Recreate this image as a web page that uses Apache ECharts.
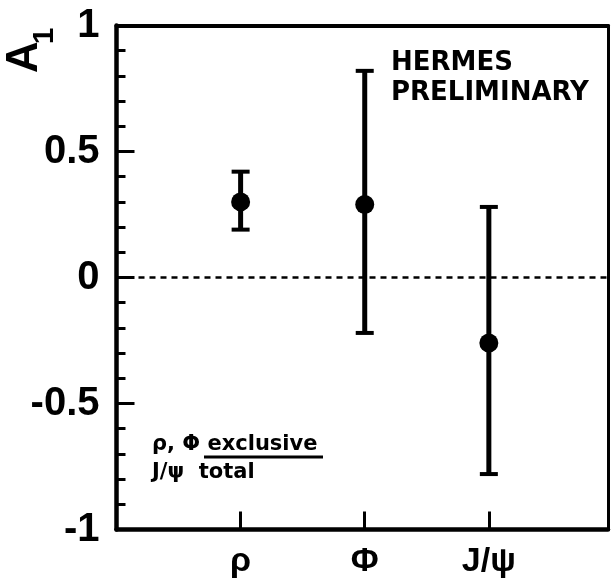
<!DOCTYPE html>
<html>
<head>
<meta charset="utf-8">
<script src="https://cdn.jsdelivr.net/npm/echarts@6/dist/echarts.min.js"></script>
<style>
  html, body { margin: 0; padding: 0; background: #fff; }
  #chart { width: 611px; height: 583px; }
</style>
</head>
<body>
<div id="chart"></div>
<script>
// Double-spin asymmetry A1 for vector-meson production
const categories = ['ρ', 'Φ', 'J/ψ'];
const asymmetry = [0.30, 0.29, -0.26];
const errLow = [0.19, -0.22, -0.78];
const errHigh = [0.42, 0.82, 0.28];
const yTicks = [-1, -0.5, 0, 0.5, 1];

const points = categories.map((c, i) => [i + 1, asymmetry[i]]);
const bars = categories.map((c, i) => [i + 1, errLow[i], errHigh[i]]);

const chart = echarts.init(document.getElementById('chart'), null, { renderer: 'canvas' });

const tickFont = { fontFamily: 'Liberation Sans', fontWeight: 'bold', color: '#000' };

chart.setOption({
  backgroundColor: '#fff',
  animation: false,
  grid: { left: 116.5, right: 1.5, top: 25.5, bottom: 53.5 },
  xAxis: [{
    type: 'value', min: 0, max: 3.96, interval: 1,
    position: 'bottom',
    axisLine: { onZero: false, lineStyle: { color: '#000', width: 4.5 } },
    axisTick: { inside: true, length: 18, lineStyle: { color: '#000', width: 3 } },
    splitLine: { show: false },
    axisLabel: Object.assign({
      fontSize: 34, margin: 15,
      formatter: v => (Number.isInteger(v) && v >= 1 && v <= categories.length) ? categories[v - 1] : ''
    }, tickFont)
  }, {
    type: 'value', min: 0, max: 3.96, position: 'top',
    axisLine: { onZero: false, lineStyle: { color: '#000', width: 4 } },
    axisTick: { show: false }, axisLabel: { show: false }, splitLine: { show: false }
  }],
  yAxis: [{
    type: 'value', min: -1, max: 1, interval: 0.5,
    axisLine: { onZero: false, lineStyle: { color: '#000', width: 4.5 } },
    axisTick: { inside: true, length: 18, lineStyle: { color: '#000', width: 3 } },
    minorTick: { show: true, splitNumber: 5, length: 9, lineStyle: { color: '#000', width: 3 } },
    splitLine: { show: false },
    axisLabel: Object.assign({
      fontSize: 40, margin: 17,
      formatter: v => yTicks.includes(v) ? String(v) : ''
    }, tickFont)
  }, {
    type: 'value', min: -1, max: 1, position: 'right',
    axisLine: { onZero: false, lineStyle: { color: '#000', width: 3 } },
    axisTick: { show: false }, axisLabel: { show: false }, splitLine: { show: false }
  }],
  series: [{
    type: 'custom',
    data: bars,
    z: 3,
    renderItem: function (params, api) {
      const x = api.value(0);
      const top = api.coord([x, api.value(2)]);
      const bot = api.coord([x, api.value(1)]);
      const half = 9;
      const style = { stroke: '#000', lineWidth: 5 };
      const capStyle = { stroke: '#000', lineWidth: 4 };
      return {
        type: 'group',
        children: [
          { type: 'line', shape: { x1: top[0], y1: top[1], x2: bot[0], y2: bot[1] }, style: style },
          { type: 'line', shape: { x1: top[0] - half, y1: top[1], x2: top[0] + half, y2: top[1] }, style: capStyle },
          { type: 'line', shape: { x1: bot[0] - half, y1: bot[1], x2: bot[0] + half, y2: bot[1] }, style: capStyle }
        ]
      };
    }
  }, {
    type: 'scatter',
    data: points,
    symbol: 'circle',
    symbolSize: 19,
    z: 4,
    itemStyle: { color: '#000', opacity: 1 },
    markLine: {
      silent: true,
      symbol: 'none',
      label: { show: false },
      lineStyle: { color: '#000', width: 2.5, type: [6, 5] },
      data: [{ yAxis: 0 }]
    }
  }],
  graphic: [
    {
      type: 'text', x: 25, y: 57, rotation: Math.PI / 2,
      style: { text: 'A', font: 'bold 44px "Liberation Sans"', fill: '#000', align: 'center', verticalAlign: 'middle' }
    },
    {
      type: 'text', x: 45, y: 36, rotation: Math.PI / 2,
      style: { text: '1', font: 'bold 30px "Liberation Sans"', fill: '#000', align: 'center', verticalAlign: 'middle' }
    },
    {
      type: 'text', x: 391, y: 63,
      style: { text: 'HERMES', font: 'bold 26px "DejaVu Sans"', fill: '#000', align: 'left', verticalAlign: 'middle' }
    },
    {
      type: 'text', x: 391, y: 93,
      style: { text: 'PRELIMINARY', font: 'bold 26px "DejaVu Sans"', fill: '#000', align: 'left', verticalAlign: 'middle' }
    },
    {
      type: 'text', x: 152, y: 445,
      style: { text: 'ρ, Φ exclusive', font: 'bold 21px "DejaVu Sans"', fill: '#000', align: 'left', verticalAlign: 'middle' }
    },
    {
      type: 'line', shape: { x1: 204, y1: 457, x2: 323, y2: 457 },
      style: { stroke: '#000', lineWidth: 3 }
    },
    {
      type: 'text', x: 152, y: 473,
      style: { text: 'J/ψ  total', font: 'bold 21px "DejaVu Sans"', fill: '#000', align: 'left', verticalAlign: 'middle' }
    }
  ]
});
</script>
</body>
</html>
